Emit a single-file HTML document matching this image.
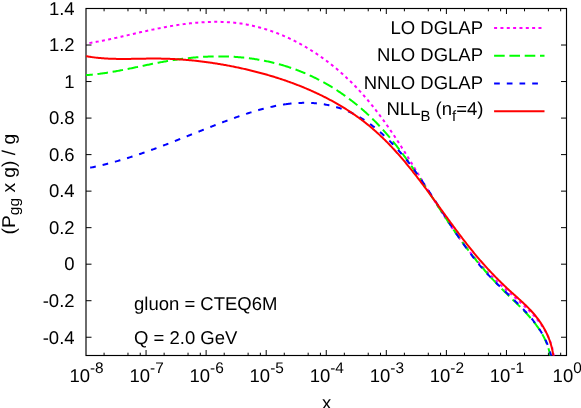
<!DOCTYPE html>
<html>
<head>
<meta charset="utf-8">
<title>plot</title>
<style>
html,body{margin:0;padding:0;background:#fff;}
body{width:581px;height:408px;overflow:hidden;}
svg{display:block;will-change:transform;}
text{text-rendering:geometricPrecision;font-family:"Liberation Sans",sans-serif;font-size:18.5px;fill:#000;}
</style>
</head>
<body>
<svg width="581" height="408" viewBox="0 0 581 408">
<rect x="0" y="0" width="581" height="408" fill="#fff"/>
<defs><clipPath id="clip"><rect x="86.0" y="8.5" width="480.5" height="347.0"/></clipPath></defs>
<!-- frame -->
<rect x="86.0" y="8.5" width="480.50" height="347.00" fill="none" stroke="#000" stroke-width="1.15"/>
<path d="M104.08 355.5 v-2.8 M104.08 8.5 v2.8 M127.98 355.5 v-2.8 M127.98 8.5 v2.8 M140.24 355.5 v-2.8 M140.24 8.5 v2.8 M146.06 355.5 v-5.5 M146.06 8.5 v5.5 M164.14 355.5 v-2.8 M164.14 8.5 v2.8 M188.04 355.5 v-2.8 M188.04 8.5 v2.8 M200.30 355.5 v-2.8 M200.30 8.5 v2.8 M206.12 355.5 v-5.5 M206.12 8.5 v5.5 M224.21 355.5 v-2.8 M224.21 8.5 v2.8 M248.11 355.5 v-2.8 M248.11 8.5 v2.8 M260.37 355.5 v-2.8 M260.37 8.5 v2.8 M266.19 355.5 v-5.5 M266.19 8.5 v5.5 M284.27 355.5 v-2.8 M284.27 8.5 v2.8 M308.17 355.5 v-2.8 M308.17 8.5 v2.8 M320.43 355.5 v-2.8 M320.43 8.5 v2.8 M326.25 355.5 v-5.5 M326.25 8.5 v5.5 M344.33 355.5 v-2.8 M344.33 8.5 v2.8 M368.23 355.5 v-2.8 M368.23 8.5 v2.8 M380.49 355.5 v-2.8 M380.49 8.5 v2.8 M386.31 355.5 v-5.5 M386.31 8.5 v5.5 M404.39 355.5 v-2.8 M404.39 8.5 v2.8 M428.29 355.5 v-2.8 M428.29 8.5 v2.8 M440.55 355.5 v-2.8 M440.55 8.5 v2.8 M446.38 355.5 v-5.5 M446.38 8.5 v5.5 M464.46 355.5 v-2.8 M464.46 8.5 v2.8 M488.36 355.5 v-2.8 M488.36 8.5 v2.8 M500.62 355.5 v-2.8 M500.62 8.5 v2.8 M506.44 355.5 v-5.5 M506.44 8.5 v5.5 M524.52 355.5 v-2.8 M524.52 8.5 v2.8 M548.42 355.5 v-2.8 M548.42 8.5 v2.8 M560.68 355.5 v-2.8 M560.68 8.5 v2.8 M86.0 337.24 h5.5 M566.5 337.24 h-5.5 M86.0 300.71 h5.5 M566.5 300.71 h-5.5 M86.0 264.18 h5.5 M566.5 264.18 h-5.5 M86.0 227.66 h5.5 M566.5 227.66 h-5.5 M86.0 191.13 h5.5 M566.5 191.13 h-5.5 M86.0 154.61 h5.5 M566.5 154.61 h-5.5 M86.0 118.08 h5.5 M566.5 118.08 h-5.5 M86.0 81.55 h5.5 M566.5 81.55 h-5.5 M86.0 45.03 h5.5 M566.5 45.03 h-5.5 M86.0 8.50 h5.5 M566.5 8.50 h-5.5" fill="none" stroke="#000" stroke-width="1"/>
<!-- curves -->
<g clip-path="url(#clip)" fill="none" stroke-width="2">
<path d="M85.98 43.51 L87.04 43.36 L88.09 43.20 L89.14 43.03 L90.19 42.87 L91.23 42.70 L92.28 42.53 L93.32 42.35 L94.36 42.17 L95.40 41.99 L96.43 41.81 L97.47 41.62 L98.50 41.43 L99.53 41.24 L100.56 41.05 L101.59 40.85 L102.62 40.65 L103.64 40.45 L104.67 40.24 L105.69 40.04 L106.71 39.83 L107.74 39.62 L108.76 39.41 L109.77 39.19 L110.79 38.98 L111.81 38.76 L112.83 38.54 L113.84 38.32 L114.86 38.10 L115.87 37.88 L116.89 37.65 L117.90 37.43 L118.91 37.20 L119.92 36.97 L120.94 36.74 L121.95 36.51 L122.96 36.28 L123.97 36.05 L124.98 35.82 L125.99 35.59 L127.01 35.36 L128.02 35.12 L129.03 34.89 L130.04 34.66 L131.05 34.42 L132.07 34.19 L133.08 33.96 L134.09 33.72 L135.11 33.49 L136.12 33.26 L137.14 33.02 L138.15 32.79 L139.17 32.56 L140.19 32.33 L141.20 32.10 L142.22 31.87 L143.24 31.64 L144.26 31.41 L145.29 31.19 L146.31 30.96 L147.33 30.74 L148.36 30.51 L149.39 30.29 L150.41 30.07 L151.44 29.85 L152.47 29.64 L153.51 29.42 L154.54 29.21 L155.57 28.99 L156.61 28.78 L157.64 28.57 L158.68 28.37 L159.71 28.16 L160.75 27.96 L161.79 27.76 L162.83 27.56 L163.87 27.36 L164.91 27.17 L165.96 26.97 L167.00 26.78 L168.04 26.60 L169.09 26.41 L170.13 26.23 L171.18 26.05 L172.22 25.87 L173.27 25.70 L174.32 25.53 L175.37 25.36 L176.41 25.20 L177.46 25.03 L178.51 24.88 L179.56 24.72 L180.61 24.57 L181.66 24.42 L182.71 24.27 L183.76 24.13 L184.82 23.99 L185.87 23.86 L186.92 23.73 L187.97 23.60 L189.02 23.48 L190.07 23.36 L191.13 23.24 L192.18 23.13 L193.23 23.02 L194.29 22.92 L195.34 22.82 L196.39 22.72 L197.44 22.63 L198.50 22.55 L199.55 22.46 L200.60 22.39 L201.65 22.31 L202.70 22.25 L203.76 22.18 L204.81 22.12 L205.86 22.07 L206.91 22.02 L207.96 21.98 L209.01 21.94 L210.06 21.91 L211.11 21.88 L212.16 21.85 L213.21 21.84 L214.26 21.82 L215.31 21.82 L216.35 21.81 L217.40 21.82 L218.45 21.83 L219.49 21.84 L220.54 21.87 L221.58 21.89 L222.63 21.93 L223.67 21.96 L224.71 22.01 L225.76 22.06 L226.80 22.12 L227.84 22.18 L228.88 22.25 L229.91 22.33 L230.95 22.41 L231.99 22.50 L233.02 22.60 L234.06 22.70 L235.09 22.81 L236.13 22.92 L237.16 23.05 L238.19 23.18 L239.22 23.31 L240.25 23.46 L241.27 23.61 L242.30 23.76 L243.33 23.93 L244.35 24.10 L245.37 24.27 L246.39 24.46 L247.42 24.65 L248.43 24.85 L249.45 25.05 L250.47 25.26 L251.48 25.48 L252.50 25.70 L253.51 25.93 L254.52 26.16 L255.53 26.41 L256.54 26.66 L257.55 26.91 L258.55 27.17 L259.56 27.44 L260.56 27.71 L261.56 27.99 L262.56 28.28 L263.56 28.57 L264.55 28.87 L265.55 29.17 L266.54 29.48 L267.53 29.80 L268.52 30.12 L269.51 30.45 L270.50 30.78 L271.48 31.12 L272.46 31.47 L273.45 31.82 L274.42 32.18 L275.40 32.54 L276.38 32.91 L277.35 33.28 L278.32 33.66 L279.29 34.05 L280.26 34.44 L281.23 34.83 L282.19 35.24 L283.16 35.64 L284.12 36.06 L285.08 36.47 L286.03 36.90 L286.99 37.33 L287.94 37.76 L288.89 38.20 L289.84 38.65 L290.79 39.10 L291.73 39.55 L292.67 40.01 L293.61 40.48 L294.55 40.95 L295.48 41.42 L296.42 41.90 L297.35 42.39 L298.28 42.88 L299.20 43.37 L300.13 43.87 L301.05 44.38 L301.97 44.89 L302.89 45.40 L303.80 45.92 L304.71 46.44 L305.62 46.97 L306.53 47.51 L307.44 48.04 L308.34 48.59 L309.24 49.13 L310.14 49.69 L311.03 50.24 L311.92 50.80 L312.81 51.37 L313.70 51.94 L314.58 52.51 L315.47 53.09 L316.35 53.67 L317.22 54.26 L318.10 54.85 L318.97 55.44 L319.84 56.04 L320.70 56.64 L321.56 57.25 L322.42 57.86 L323.28 58.48 L324.14 59.10 L324.99 59.72 L325.84 60.35 L326.68 60.98 L327.52 61.61 L328.36 62.25 L329.20 62.90 L330.03 63.54 L330.87 64.19 L331.69 64.85 L332.52 65.50 L333.34 66.17 L334.16 66.83 L334.97 67.50 L335.79 68.17 L336.60 68.85 L337.40 69.53 L338.21 70.21 L339.01 70.89 L339.80 71.58 L340.60 72.28 L341.39 72.97 L342.17 73.67 L342.96 74.37 L343.74 75.08 L344.51 75.79 L345.29 76.50 L346.06 77.21 L346.82 77.93 L347.59 78.65 L348.35 79.38 L349.10 80.11 L349.86 80.84 L350.61 81.57 L351.35 82.31 L352.09 83.04 L352.83 83.79 L353.57 84.53 L354.30 85.28 L355.03 86.03 L355.76 86.78 L356.48 87.54 L357.20 88.29 L357.91 89.06 L358.62 89.82 L359.33 90.59 L360.04 91.35 L360.74 92.13 L361.44 92.90 L362.14 93.68 L362.83 94.46 L363.53 95.24 L364.21 96.02 L364.90 96.81 L365.58 97.60 L366.26 98.39 L366.94 99.18 L367.61 99.98 L368.28 100.77 L368.95 101.57 L369.61 102.38 L370.28 103.18 L370.94 103.99 L371.59 104.80 L372.25 105.61 L372.90 106.42 L373.55 107.24 L374.20 108.06 L374.84 108.87 L375.49 109.70 L376.12 110.52 L376.76 111.35 L377.40 112.17 L378.03 113.00 L378.66 113.83 L379.29 114.67 L379.91 115.50 L380.54 116.34 L381.16 117.18 L381.78 118.02 L382.40 118.86 L383.01 119.70 L383.63 120.55 L384.24 121.39 L384.85 122.24 L385.45 123.09 L386.06 123.95 L386.66 124.80 L387.26 125.65 L387.86 126.51 L388.46 127.37 L389.06 128.23 L389.65 129.09 L390.24 129.95 L390.84 130.81 L391.42 131.68 L392.01 132.55 L392.60 133.41 L393.18 134.28 L393.77 135.15 L394.35 136.02 L394.93 136.90 L395.51 137.77 L396.08 138.65 L396.66 139.52 L397.23 140.40 L397.81 141.28 L398.38 142.16 L398.95 143.04 L399.52 143.92 L400.09 144.80 L400.65 145.68 L401.22 146.57 L401.78 147.45 L402.35 148.34 L402.91 149.23 L403.47 150.11 L404.03 151.00 L404.59 151.89 L405.15 152.78 L405.71 153.67 L406.27 154.56 L406.82 155.46 L407.38 156.35 L407.93 157.24 L408.49 158.14 L409.04 159.03 L409.59 159.93 L410.14 160.82 L410.70 161.72 L411.25 162.61 L411.80 163.51 L412.35 164.41 L412.90 165.31 L413.44 166.20 L413.99 167.10 L414.54 168.00 L415.09 168.90 L415.63 169.80 L416.18 170.70 L416.73 171.60 L417.27 172.50 L417.82 173.40 L418.37 174.30 L418.91 175.20 L419.46 176.10 L420.00 177.00 L420.55 177.90 L421.09 178.80 L421.64 179.71 L422.18 180.61 L422.73 181.51 L423.27 182.41 L423.82 183.31 L424.37 184.21 L424.91 185.11 L425.46 186.01 L426.00 186.91 L426.55 187.81 L427.10 188.71 L427.64 189.61 L428.19 190.51 L428.74 191.40 L429.29 192.30 L429.84 193.20 L430.39 194.10 L430.94 194.99 L431.49 195.89 L432.04 196.79 L432.59 197.68 L433.14 198.58 L433.69 199.47 L434.25 200.36 L434.80 201.26 L435.36 202.15 L435.91 203.04 L436.47 203.93 L437.03 204.82 L437.58 205.71 L438.14 206.60 L438.70 207.49 L439.26 208.38 L439.83 209.26 L440.39 210.15 L440.95 211.03 L441.52 211.92 L442.09 212.80 L442.65 213.68 L443.22 214.56 L443.79 215.44 L444.36 216.32 L444.94 217.20 L445.51 218.08 L446.08 218.95 L446.66 219.83 L447.24 220.70 L447.82 221.57 L448.40 222.44 L448.98 223.31 L449.57 224.18 L450.15 225.05 L450.74 225.91 L451.33 226.78 L451.92 227.64 L452.51 228.50 L453.10 229.36 L453.70 230.22 L454.29 231.08 L454.89 231.93 L455.49 232.79 L456.09 233.64 L456.70 234.49 L457.31 235.34 L457.91 236.19 L458.52 237.03 L459.14 237.88 L459.75 238.72 L460.37 239.56 L460.98 240.40 L461.60 241.24 L462.23 242.08 L462.85 242.91 L463.48 243.74 L464.11 244.57 L464.74 245.40 L465.37 246.23 L466.01 247.05 L466.65 247.88 L467.29 248.70 L467.93 249.52 L468.57 250.33 L469.22 251.15 L469.87 251.96 L470.52 252.77 L471.18 253.58 L471.84 254.39 L472.50 255.20 L473.16 256.00 L473.82 256.80 L474.49 257.60 L475.16 258.39 L475.83 259.19 L476.51 259.98 L477.19 260.77 L477.87 261.56 L478.55 262.34 L479.24 263.13 L479.93 263.91 L480.62 264.68 L481.32 265.46 L482.02 266.23 L482.72 267.00 L483.42 267.77 L484.13 268.54 L484.84 269.30 L485.55 270.06 L486.27 270.82 L486.99 271.58 L487.71 272.33 L488.44 273.08 L489.17 273.83 L489.90 274.58 L490.64 275.32 L491.37 276.06 L492.12 276.80 L492.86 277.53 L493.61 278.27 L494.36 278.99 L495.12 279.72 L495.88 280.45 L496.64 281.17 L497.40 281.89 L498.17 282.60 L498.94 283.31 L499.72 284.03 L500.50 284.73 L501.28 285.44 L502.06 286.15 L502.84 286.85 L503.63 287.55 L504.41 288.25 L505.20 288.95 L505.99 289.65 L506.78 290.35 L507.58 291.04 L508.37 291.74 L509.16 292.44 L509.96 293.13 L510.75 293.83 L511.54 294.52 L512.34 295.22 L513.13 295.91 L513.92 296.61 L514.71 297.31 L515.51 298.00 L516.29 298.70 L517.08 299.40 L517.87 300.10 L518.65 300.80 L519.44 301.51 L520.22 302.21 L521.00 302.92 L521.77 303.63 L522.55 304.34 L523.32 305.05 L524.08 305.77 L524.85 306.49 L525.60 307.21 L526.36 307.94 L527.11 308.66 L527.86 309.39 L528.60 310.13 L529.33 310.87 L530.07 311.61 L530.79 312.36 L531.51 313.11 L532.22 313.87 L532.93 314.63 L533.63 315.39 L534.32 316.16 L535.01 316.94 L535.69 317.72 L536.36 318.50 L537.02 319.30 L537.67 320.09 L538.32 320.90 L538.95 321.71 L539.58 322.52 L540.20 323.35 L540.81 324.18 L541.41 325.01 L542.00 325.86 L542.57 326.71 L543.14 327.57 L543.70 328.43 L544.24 329.31 L544.78 330.19 L545.30 331.08 L545.81 331.98 L546.31 332.89 L546.80 333.80 L547.27 334.72 L547.73 335.66 L548.18 336.60 L548.61 337.55 L549.03 338.51 L549.43 339.48 L549.83 340.46 L550.20 341.45 L550.57 342.45 L550.91 343.46 L551.24 344.48 L551.56 345.51 L551.86 346.55 L552.15 347.61 L552.41 348.67 L552.67 349.74 L552.90 350.83 L553.12 351.92 L553.32 353.03 L553.50 354.15 L553.67 355.28 L553.81 356.43" stroke="#ff00ff" stroke-dasharray="3 3.34" stroke-dashoffset="-3.5"/>
<path d="M86.01 75.10 L87.02 75.03 L88.03 74.96 L89.03 74.88 L90.04 74.80 L91.04 74.72 L92.05 74.63 L93.05 74.53 L94.06 74.43 L95.06 74.33 L96.06 74.22 L97.06 74.11 L98.06 73.99 L99.06 73.87 L100.06 73.74 L101.05 73.61 L102.05 73.48 L103.05 73.34 L104.04 73.20 L105.04 73.05 L106.03 72.91 L107.03 72.75 L108.02 72.60 L109.01 72.44 L110.01 72.28 L111.00 72.12 L111.99 71.95 L112.98 71.78 L113.97 71.61 L114.96 71.43 L115.95 71.25 L116.94 71.07 L117.93 70.89 L118.92 70.71 L119.91 70.52 L120.89 70.33 L121.88 70.14 L122.87 69.95 L123.86 69.76 L124.84 69.56 L125.83 69.36 L126.82 69.17 L127.80 68.97 L128.79 68.77 L129.77 68.56 L130.76 68.36 L131.75 68.16 L132.73 67.95 L133.72 67.75 L134.70 67.54 L135.69 67.33 L136.67 67.13 L137.66 66.92 L138.64 66.71 L139.63 66.51 L140.61 66.30 L141.60 66.09 L142.59 65.88 L143.57 65.68 L144.56 65.47 L145.54 65.26 L146.53 65.06 L147.52 64.85 L148.50 64.65 L149.49 64.45 L150.48 64.25 L151.46 64.04 L152.45 63.85 L153.44 63.65 L154.43 63.45 L155.42 63.25 L156.41 63.06 L157.39 62.87 L158.38 62.68 L159.37 62.49 L160.36 62.30 L161.36 62.12 L162.35 61.93 L163.34 61.75 L164.33 61.58 L165.32 61.40 L166.32 61.23 L167.31 61.06 L168.31 60.89 L169.30 60.73 L170.30 60.56 L171.29 60.40 L172.29 60.25 L173.28 60.09 L174.28 59.94 L175.28 59.79 L176.28 59.65 L177.27 59.50 L178.27 59.36 L179.27 59.22 L180.27 59.09 L181.27 58.96 L182.27 58.83 L183.27 58.70 L184.27 58.58 L185.27 58.46 L186.28 58.34 L187.28 58.23 L188.28 58.12 L189.28 58.01 L190.28 57.91 L191.29 57.81 L192.29 57.71 L193.29 57.61 L194.30 57.52 L195.30 57.43 L196.30 57.35 L197.31 57.27 L198.31 57.19 L199.32 57.12 L200.32 57.04 L201.33 56.98 L202.33 56.91 L203.33 56.85 L204.34 56.79 L205.35 56.74 L206.35 56.69 L207.36 56.64 L208.36 56.60 L209.37 56.56 L210.37 56.53 L211.38 56.50 L212.38 56.47 L213.39 56.44 L214.39 56.42 L215.40 56.41 L216.41 56.39 L217.41 56.39 L218.42 56.38 L219.42 56.38 L220.43 56.38 L221.43 56.39 L222.44 56.40 L223.44 56.42 L224.45 56.44 L225.45 56.46 L226.46 56.49 L227.46 56.52 L228.47 56.55 L229.47 56.59 L230.48 56.64 L231.48 56.69 L232.49 56.74 L233.49 56.80 L234.49 56.86 L235.50 56.92 L236.50 56.99 L237.50 57.07 L238.51 57.15 L239.51 57.23 L240.51 57.32 L241.51 57.41 L242.51 57.51 L243.51 57.61 L244.51 57.71 L245.51 57.82 L246.51 57.94 L247.51 58.06 L248.51 58.18 L249.51 58.31 L250.51 58.44 L251.50 58.57 L252.50 58.72 L253.49 58.86 L254.49 59.01 L255.48 59.16 L256.48 59.32 L257.47 59.49 L258.46 59.65 L259.45 59.83 L260.44 60.00 L261.43 60.18 L262.42 60.37 L263.41 60.56 L264.40 60.76 L265.38 60.95 L266.37 61.16 L267.35 61.37 L268.33 61.58 L269.32 61.80 L270.30 62.02 L271.28 62.25 L272.26 62.48 L273.23 62.71 L274.21 62.96 L275.18 63.20 L276.16 63.45 L277.13 63.71 L278.10 63.96 L279.07 64.23 L280.04 64.50 L281.01 64.77" stroke="#00ff00" stroke-dasharray="10.6 4.7" stroke-dashoffset="3.8"/>
<path d="M281.01 64.77 L281.98 65.05 L282.94 65.33 L283.91 65.62 L284.87 65.91 L285.83 66.21 L286.79 66.51 L287.75 66.81 L288.71 67.12 L289.66 67.44 L290.62 67.76 L291.57 68.09 L292.52 68.41 L293.47 68.75 L294.42 69.09 L295.36 69.43 L296.31 69.78 L297.25 70.13 L298.19 70.49 L299.13 70.86 L300.07 71.22 L301.00 71.60 L301.93 71.97 L302.87 72.36 L303.80 72.74 L304.72 73.14 L305.65 73.53 L306.58 73.93 L307.50 74.34 L308.42 74.75 L309.34 75.17 L310.25 75.59 L311.17 76.01 L312.08 76.44 L312.99 76.87 L313.90 77.31 L314.81 77.75 L315.71 78.20 L316.62 78.65 L317.52 79.11 L318.41 79.57 L319.31 80.03 L320.20 80.50 L321.10 80.97 L321.99 81.45 L322.87 81.93 L323.76 82.42 L324.64 82.91 L325.52 83.40 L326.40 83.90 L327.28 84.41 L328.15 84.91 L329.02 85.42 L329.89 85.94 L330.76 86.46 L331.62 86.98 L332.49 87.51 L333.35 88.04 L334.20 88.58 L335.06 89.12 L335.91 89.66 L336.76 90.21 L337.61 90.76 L338.45 91.31 L339.30 91.87 L340.14 92.44 L340.97 93.00 L341.81 93.57 L342.64 94.15 L343.47 94.72 L344.30 95.31 L345.12 95.89 L345.94 96.48 L346.76 97.07 L347.58 97.67 L348.39 98.27 L349.20 98.87 L350.01 99.48 L350.82 100.09 L351.62 100.70 L352.42 101.32 L353.22 101.94 L354.01 102.57 L354.80 103.20 L355.59 103.83 L356.38 104.46 L357.16 105.10 L357.94 105.74 L358.72 106.39 L359.49 107.03 L360.26 107.68 L361.03 108.34 L361.80 109.00 L362.56 109.66 L363.32 110.32 L364.07 110.99 L364.83 111.66 L365.57 112.33 L366.32 113.01 L367.07 113.69 L367.81 114.37 L368.54 115.06 L369.28 115.74 L370.01 116.44 L370.74 117.13 L371.46 117.83 L372.18 118.53 L372.90 119.23 L373.61 119.94 L374.33 120.65 L375.03 121.36 L375.74 122.07 L376.44 122.79 L377.14 123.51 L377.83 124.23 L378.53 124.96 L379.22 125.69 L379.90 126.42 L380.59 127.15 L381.27 127.88 L381.94 128.62 L382.62 129.36 L383.29 130.11 L383.96 130.85 L384.63 131.60 L385.29 132.35 L385.95 133.10 L386.61 133.86 L387.27 134.61 L387.92 135.37 L388.57 136.13 L389.22 136.90 L389.86 137.66 L390.51 138.43 L391.15 139.20 L391.78 139.98 L392.42 140.75 L393.05 141.53 L393.68 142.31 L394.31 143.09 L394.94 143.87 L395.56 144.65 L396.19 145.44 L396.81 146.23 L397.42 147.02 L398.04 147.81 L398.65 148.60 L399.26 149.40 L399.87 150.19 L400.48 150.99 L401.09 151.79 L401.69 152.60 L402.29 153.40 L402.89 154.20 L403.49 155.01 L404.09 155.82 L404.68 156.63 L405.28 157.44 L405.87 158.25 L406.46 159.07 L407.04 159.88 L407.63 160.70 L408.22 161.52 L408.80 162.34 L409.38 163.16 L409.96 163.98 L410.54 164.80 L411.12 165.63 L411.70 166.45 L412.27 167.28 L412.85 168.11 L413.42 168.94 L413.99 169.77 L414.56 170.60 L415.13 171.43 L415.70 172.26 L416.26 173.10 L416.83 173.93 L417.39 174.77 L417.96 175.60 L418.52 176.44 L419.08 177.28 L419.64 178.12 L420.20 178.96 L420.76 179.80 L421.32 180.64 L421.88 181.48 L422.44 182.32 L422.99 183.16 L423.55 184.01 L424.11 184.85 L424.66 185.70 L425.21 186.54 L425.77 187.39 L426.32 188.23 L426.87 189.08 L427.42 189.92 L427.98 190.77 L428.53 191.62 L429.08 192.47 L429.63 193.31 L430.18 194.16 L430.73 195.01 L431.28 195.86 L431.83 196.71 L432.38 197.55 L432.93 198.40 L433.48 199.25 L434.03 200.10 L434.58 200.95 L435.13 201.80 L435.68 202.65 L436.22 203.50 L436.77 204.34 L437.32 205.19 L437.87 206.04 L438.42 206.89 L438.97 207.74 L439.53 208.58 L440.08 209.43 L440.63 210.28 L441.18 211.12 L441.73 211.97 L442.28 212.82 L442.84 213.66 L443.39 214.51 L443.94 215.35 L444.50 216.19 L445.05 217.04 L445.61 217.88 L446.17 218.72 L446.72 219.56 L447.28 220.40 L447.84 221.24 L448.40 222.08 L448.96 222.92 L449.52 223.76 L450.08 224.60 L450.65 225.43 L451.21 226.27 L451.78 227.10 L452.34 227.94 L452.91 228.77 L453.48 229.60 L454.05 230.43 L454.62 231.26 L455.19 232.09 L455.76 232.92 L456.34 233.75 L456.91 234.57 L457.49 235.40 L458.07 236.22 L458.65 237.04 L459.23 237.86 L459.81 238.68 L460.39 239.50 L460.98 240.32 L461.56 241.13 L462.15 241.95 L462.74 242.76 L463.34 243.57 L463.93 244.38 L464.52 245.19 L465.12 245.99 L465.72 246.80 L466.32 247.60 L466.92 248.40 L467.53 249.20 L468.13 250.00 L468.74 250.80 L469.35 251.60 L469.96 252.39 L470.57 253.18 L471.19 253.97 L471.80 254.76 L472.42 255.55 L473.04 256.34 L473.67 257.12 L474.29 257.91 L474.92 258.69 L475.54 259.47 L476.17 260.25 L476.81 261.02 L477.44 261.80 L478.07 262.57 L478.71 263.34 L479.35 264.11 L479.99 264.88 L480.64 265.65 L481.28 266.42 L481.93 267.18 L482.58 267.94 L483.23 268.70 L483.88 269.46 L484.54 270.22 L485.20 270.98 L485.85 271.73 L486.52 272.48 L487.18 273.24 L487.84 273.99 L488.51 274.73 L489.18 275.48 L489.85 276.23 L490.53 276.97 L491.20 277.71 L491.88 278.45 L492.56 279.19 L493.24 279.93 L493.93 280.66 L494.61 281.39 L495.30 282.13 L495.99 282.86 L496.68 283.58 L497.38 284.31 L498.07 285.04 L498.77 285.76 L499.47 286.48 L500.18 287.20 L500.88 287.92 L501.59 288.64 L502.30 289.35 L503.01 290.07 L503.73 290.78 L504.44 291.49 L505.16 292.20 L505.88 292.91 L506.60 293.62 L507.32 294.32 L508.05 295.03 L508.77 295.73 L509.49 296.44 L510.22 297.14 L510.94 297.85 L511.67 298.55 L512.39 299.26 L513.11 299.96 L513.84 300.67 L514.56 301.37 L515.28 302.08 L516.00 302.79 L516.72 303.49 L517.44 304.20 L518.16 304.91 L518.88 305.62 L519.59 306.33 L520.30 307.05 L521.01 307.76 L521.72 308.48 L522.42 309.20 L523.12 309.92 L523.82 310.65 L524.51 311.37 L525.20 312.10 L525.89 312.83 L526.58 313.56 L527.26 314.30 L527.93 315.04 L528.60 315.78 L529.27 316.53 L529.93 317.28 L530.58 318.03 L531.23 318.79 L531.88 319.55 L532.51 320.32 L533.15 321.09 L533.77 321.87 L534.39 322.65 L535.00 323.43 L535.60 324.22 L536.20 325.01 L536.79 325.81 L537.37 326.62 L537.94 327.43 L538.51 328.25 L539.06 329.07 L539.61 329.90 L540.15 330.73 L540.68 331.58 L541.20 332.42 L541.71 333.28 L542.21 334.14 L542.69 335.01 L543.17 335.88 L543.64 336.77 L544.10 337.66 L544.54 338.56 L544.98 339.46 L545.40 340.38 L545.81 341.30 L546.21 342.23 L546.60 343.17 L546.97 344.12 L547.33 345.07 L547.68 346.04 L548.01 347.01 L548.33 348.00 L548.64 348.99 L548.93 349.99 L549.21 351.00 L549.48 352.03 L549.73 353.06 L549.96 354.10 L550.18 355.15 L550.38 356.21" stroke="#00ff00" stroke-dasharray="10.6 4.7" stroke-dashoffset="0"/>
<path d="M85.88 168.53 L86.89 168.34 L87.89 168.15 L88.89 167.96 L89.89 167.76 L90.88 167.56 L91.88 167.36 L92.87 167.15 L93.86 166.94 L94.85 166.73 L95.84 166.52 L96.82 166.30 L97.81 166.08 L98.79 165.86 L99.77 165.63 L100.75 165.40 L101.73 165.17 L102.71 164.94 L103.69 164.70 L104.66 164.46 L105.64 164.22 L106.61 163.97 L107.58 163.73 L108.55 163.48 L109.52 163.23 L110.48 162.97 L111.45 162.72 L112.41 162.46 L113.38 162.19 L114.34 161.93 L115.30 161.66 L116.26 161.40 L117.22 161.13 L118.17 160.85 L119.13 160.58 L120.09 160.30 L121.04 160.02 L121.99 159.74 L122.94 159.45 L123.89 159.17 L124.84 158.88 L125.79 158.59 L126.74 158.30 L127.69 158.00 L128.63 157.71 L129.58 157.41 L130.52 157.11 L131.46 156.81 L132.41 156.50 L133.35 156.20 L134.29 155.89 L135.23 155.58 L136.17 155.27 L137.10 154.96 L138.04 154.64 L138.98 154.33 L139.91 154.01 L140.85 153.69 L141.78 153.37 L142.72 153.05 L143.65 152.72 L144.58 152.40 L145.51 152.07 L146.44 151.74 L147.37 151.41 L148.30 151.08 L149.23 150.75 L150.16 150.42 L151.09 150.08 L152.02 149.75 L152.94 149.41 L153.87 149.07 L154.80 148.73 L155.72 148.39 L156.65 148.04 L157.57 147.70 L158.50 147.36 L159.42 147.01 L160.34 146.66 L161.27 146.32 L162.19 145.97 L163.11 145.62 L164.04 145.27 L164.96 144.91 L165.88 144.56 L166.80 144.21 L167.72 143.85 L168.64 143.50 L169.57 143.14 L170.49 142.79 L171.41 142.43 L172.33 142.07 L173.25 141.71 L174.17 141.35 L175.09 140.99 L176.01 140.63 L176.93 140.27 L177.85 139.91 L178.77 139.54 L179.69 139.18 L180.61 138.82 L181.53 138.45 L182.45 138.09 L183.37 137.72 L184.29 137.36 L185.21 136.99 L186.13 136.63 L187.05 136.26 L187.98 135.90 L188.90 135.53 L189.82 135.16 L190.74 134.80 L191.66 134.43 L192.58 134.06 L193.51 133.69 L194.43 133.33 L195.35 132.96 L196.28 132.59 L197.20 132.22 L198.12 131.86 L199.05 131.49 L199.97 131.12 L200.90 130.76 L201.82 130.39 L202.75 130.02 L203.68 129.66 L204.60 129.29 L205.53 128.92 L206.46 128.56 L207.39 128.19 L208.32 127.83 L209.25 127.46 L210.18 127.10 L211.11 126.73 L212.04 126.37 L212.97 126.00 L213.91 125.64 L214.84 125.28 L215.78 124.92 L216.71 124.56 L217.65 124.20 L218.58 123.84 L219.52 123.48 L220.46 123.12 L221.40 122.76 L222.34 122.40 L223.28 122.05 L224.22 121.69 L225.16 121.34 L226.10 120.98 L227.05 120.63 L227.99 120.28 L228.94 119.93 L229.89 119.58 L230.83 119.23 L231.78 118.88 L232.73 118.54 L233.68 118.19 L234.63 117.85 L235.58 117.51 L236.53 117.17 L237.49 116.83 L238.44 116.50 L239.39 116.17 L240.35 115.83 L241.30 115.51 L242.26 115.18 L243.22 114.86 L244.18 114.53 L245.13 114.22 L246.09 113.90 L247.05 113.59 L248.01 113.28 L248.97 112.97 L249.94 112.66 L250.90 112.36 L251.86 112.06 L252.82 111.77 L253.79 111.47 L254.75 111.19 L255.72 110.90 L256.68 110.62 L257.65 110.34 L258.62 110.07 L259.58 109.79 L260.55 109.53 L261.52 109.26 L262.49 109.01 L263.46 108.75 L264.43 108.50 L265.40 108.25 L266.37 108.01 L267.34 107.77 L268.31 107.54 L269.28 107.31 L270.26 107.09 L271.23 106.87 L272.20 106.65 L273.17 106.44 L274.15 106.24 L275.12 106.04 L276.10 105.85 L277.07 105.66 L278.05 105.47 L279.02 105.30 L280.00 105.12 L280.98 104.96 L281.95 104.80 L282.93 104.64 L283.91 104.49 L284.89 104.35 L285.86 104.21" stroke="#0000ff" stroke-dasharray="5.7 7" stroke-dashoffset="-4.4"/>
<path d="M285.86 104.21 L286.84 104.08 L287.82 103.95 L288.80 103.83 L289.78 103.72 L290.76 103.61 L291.74 103.51 L292.72 103.42 L293.70 103.33 L294.68 103.25 L295.66 103.18 L296.64 103.11 L297.62 103.05 L298.60 103.00 L299.58 102.95 L300.56 102.91 L301.54 102.88 L302.52 102.86 L303.50 102.84 L304.49 102.84 L305.47 102.83 L306.45 102.84 L307.43 102.86 L308.41 102.88 L309.39 102.91 L310.38 102.95 L311.36 102.99 L312.34 103.05 L313.32 103.11 L314.30 103.18 L315.29 103.26 L316.27 103.35 L317.25 103.45 L318.23 103.55 L319.21 103.67 L320.19 103.79 L321.17 103.92 L322.14 104.06 L323.12 104.21 L324.10 104.36 L325.07 104.53 L326.04 104.70 L327.02 104.89 L327.99 105.08 L328.95 105.28 L329.92 105.49 L330.89 105.71 L331.85 105.93 L332.81 106.17 L333.77 106.41 L334.73 106.67 L335.68 106.93 L336.63 107.20 L337.58 107.48 L338.53 107.77 L339.48 108.07 L340.42 108.38 L341.36 108.69 L342.29 109.02 L343.22 109.36 L344.15 109.70 L345.08 110.06 L346.00 110.42 L346.92 110.79 L347.84 111.18 L348.75 111.57 L349.66 111.97 L350.56 112.38 L351.46 112.80 L352.36 113.23 L353.25 113.67 L354.14 114.12 L355.02 114.57 L355.90 115.04 L356.78 115.51 L357.65 115.99 L358.52 116.48 L359.38 116.98 L360.24 117.49 L361.10 118.00 L361.95 118.52 L362.80 119.05 L363.64 119.59 L364.48 120.13 L365.32 120.69 L366.15 121.24 L366.98 121.81 L367.80 122.38 L368.62 122.96 L369.44 123.54 L370.25 124.13 L371.05 124.72 L371.86 125.33 L372.65 125.93 L373.45 126.55 L374.24 127.16 L375.02 127.79 L375.81 128.42 L376.58 129.05 L377.36 129.69 L378.13 130.33 L378.89 130.98 L379.65 131.63 L380.41 132.28 L381.16 132.94 L381.91 133.61 L382.65 134.27 L383.39 134.95 L384.13 135.62 L384.86 136.30 L385.58 136.98 L386.31 137.66 L387.03 138.35 L387.74 139.04 L388.45 139.74 L389.16 140.44 L389.86 141.14 L390.56 141.84 L391.25 142.55 L391.95 143.26 L392.63 143.97 L393.32 144.69 L394.00 145.41 L394.68 146.13 L395.35 146.86 L396.02 147.59 L396.69 148.32 L397.35 149.06 L398.01 149.79 L398.67 150.53 L399.32 151.28 L399.97 152.02 L400.62 152.77 L401.26 153.52 L401.90 154.28 L402.54 155.03 L403.18 155.79 L403.81 156.55 L404.44 157.31 L405.06 158.08 L405.69 158.85 L406.31 159.62 L406.93 160.39 L407.54 161.17 L408.16 161.95 L408.77 162.72 L409.37 163.51 L409.98 164.29 L410.58 165.08 L411.18 165.86 L411.78 166.65 L412.38 167.45 L412.97 168.24 L413.56 169.04 L414.15 169.83 L414.74 170.63 L415.32 171.43 L415.90 172.24 L416.48 173.04 L417.06 173.85 L417.64 174.65 L418.22 175.46 L418.79 176.28 L419.36 177.09 L419.93 177.90 L420.50 178.72 L421.06 179.53 L421.63 180.35 L422.19 181.17 L422.75 181.99 L423.31 182.81 L423.87 183.64 L424.43 184.46 L424.99 185.29 L425.54 186.11 L426.10 186.94 L426.65 187.77 L427.20 188.60 L427.75 189.43 L428.30 190.26 L428.85 191.10 L429.39 191.93 L429.94 192.76 L430.48 193.60 L431.03 194.43 L431.57 195.27 L432.12 196.11 L432.66 196.95 L433.20 197.78 L433.74 198.62 L434.28 199.46 L434.82 200.30 L435.36 201.14 L435.90 201.98 L436.44 202.83 L436.97 203.67 L437.51 204.51 L438.05 205.35 L438.59 206.19 L439.12 207.04 L439.66 207.88 L440.20 208.72 L440.73 209.56 L441.27 210.41 L441.81 211.25 L442.34 212.09 L442.88 212.94 L443.42 213.78 L443.96 214.62 L444.49 215.46 L445.03 216.31 L445.57 217.15 L446.11 217.99 L446.65 218.83 L447.19 219.67 L447.73 220.51 L448.27 221.35 L448.81 222.19 L449.35 223.03 L449.90 223.87 L450.44 224.71 L450.98 225.54 L451.53 226.38 L452.07 227.22 L452.62 228.05 L453.17 228.89 L453.72 229.72 L454.27 230.55 L454.82 231.39 L455.37 232.22 L455.92 233.05 L456.48 233.88 L457.04 234.70 L457.59 235.53 L458.15 236.36 L458.71 237.18 L459.27 238.00 L459.84 238.83 L460.40 239.65 L460.97 240.47 L461.53 241.29 L462.10 242.10 L462.68 242.92 L463.25 243.73 L463.82 244.55 L464.40 245.36 L464.98 246.17 L465.56 246.97 L466.14 247.78 L466.73 248.59 L467.31 249.39 L467.90 250.19 L468.49 250.99 L469.09 251.79 L469.68 252.58 L470.28 253.38 L470.88 254.17 L471.48 254.96 L472.09 255.75 L472.69 256.54 L473.30 257.32 L473.92 258.10 L474.53 258.88 L475.15 259.66 L475.77 260.44 L476.39 261.21 L477.02 261.98 L477.65 262.75 L478.28 263.52 L478.91 264.28 L479.55 265.04 L480.19 265.80 L480.84 266.56 L481.48 267.31 L482.13 268.06 L482.79 268.81 L483.44 269.56 L484.10 270.30 L484.76 271.04 L485.43 271.78 L486.10 272.51 L486.77 273.25 L487.45 273.98 L488.13 274.70 L488.81 275.43 L489.50 276.15 L490.19 276.87 L490.89 277.58 L491.58 278.29 L492.28 279.01 L492.98 279.71 L493.69 280.42 L494.40 281.12 L495.10 281.83 L495.82 282.53 L496.53 283.23 L497.25 283.92 L497.96 284.62 L498.68 285.31 L499.40 286.01 L500.12 286.70 L500.84 287.39 L501.57 288.08 L502.29 288.77 L503.02 289.46 L503.74 290.14 L504.47 290.83 L505.19 291.52 L505.92 292.20 L506.64 292.89 L507.37 293.58 L508.10 294.26 L508.82 294.95 L509.54 295.64 L510.27 296.33 L510.99 297.01 L511.71 297.70 L512.43 298.39 L513.15 299.08 L513.87 299.77 L514.58 300.47 L515.30 301.16 L516.01 301.85 L516.72 302.55 L517.42 303.25 L518.13 303.95 L518.83 304.65 L519.53 305.35 L520.23 306.06 L520.92 306.77 L521.61 307.48 L522.30 308.19 L522.98 308.90 L523.66 309.62 L524.34 310.34 L525.01 311.06 L525.68 311.79 L526.35 312.51 L527.01 313.24 L527.66 313.98 L528.31 314.72 L528.96 315.46 L529.60 316.20 L530.24 316.95 L530.87 317.70 L531.50 318.46 L532.12 319.22 L532.73 319.98 L533.34 320.75 L533.94 321.53 L534.54 322.30 L535.13 323.09 L535.72 323.87 L536.29 324.66 L536.87 325.46 L537.43 326.26 L537.99 327.07 L538.54 327.88 L539.08 328.70 L539.62 329.52 L540.15 330.35 L540.67 331.18 L541.18 332.02 L541.69 332.87 L542.18 333.72 L542.67 334.57 L543.15 335.44 L543.62 336.31 L544.09 337.18 L544.54 338.07 L544.99 338.96 L545.42 339.85 L545.85 340.76 L546.27 341.67 L546.68 342.59 L547.07 343.51 L547.46 344.44 L547.84 345.38 L548.21 346.33 L548.57 347.29 L548.91 348.25 L549.25 349.22 L549.58 350.20 L549.89 351.19 L550.20 352.18 L550.49 353.19 L550.77 354.20 L551.04 355.22 L551.30 356.25" stroke="#0000ff" stroke-dasharray="5.7 7" stroke-dashoffset="0"/>
<path d="M86.10 56.15 L87.07 56.33 L88.03 56.50 L89.00 56.66 L89.97 56.82 L90.94 56.97 L91.91 57.12 L92.89 57.25 L93.86 57.38 L94.84 57.51 L95.81 57.62 L96.79 57.74 L97.77 57.84 L98.76 57.94 L99.74 58.03 L100.72 58.12 L101.71 58.21 L102.69 58.28 L103.68 58.36 L104.67 58.42 L105.66 58.49 L106.65 58.54 L107.64 58.60 L108.64 58.65 L109.63 58.69 L110.62 58.73 L111.62 58.77 L112.61 58.80 L113.61 58.83 L114.61 58.85 L115.61 58.87 L116.60 58.89 L117.60 58.91 L118.60 58.92 L119.60 58.93 L120.60 58.94 L121.61 58.94 L122.61 58.94 L123.61 58.94 L124.61 58.94 L125.62 58.93 L126.62 58.93 L127.62 58.92 L128.63 58.91 L129.63 58.90 L130.64 58.88 L131.64 58.87 L132.64 58.86 L133.65 58.84 L134.65 58.82 L135.66 58.81 L136.66 58.79 L137.67 58.77 L138.67 58.75 L139.68 58.73 L140.68 58.72 L141.69 58.70 L142.69 58.68 L143.69 58.67 L144.70 58.65 L145.70 58.64 L146.70 58.62 L147.71 58.61 L148.71 58.60 L149.71 58.59 L150.71 58.58 L151.71 58.57 L152.71 58.57 L153.71 58.56 L154.71 58.56 L155.71 58.56 L156.71 58.57 L157.70 58.58 L158.70 58.58 L159.69 58.60 L160.69 58.61 L161.68 58.63 L162.68 58.65 L163.67 58.67 L164.66 58.69 L165.65 58.72 L166.64 58.75 L167.63 58.79 L168.62 58.82 L169.61 58.86 L170.60 58.90 L171.59 58.94 L172.58 58.99 L173.56 59.04 L174.55 59.09 L175.53 59.14 L176.52 59.20 L177.50 59.25 L178.49 59.31 L179.47 59.38 L180.46 59.44 L181.44 59.51 L182.42 59.58 L183.40 59.66 L184.38 59.73 L185.36 59.81 L186.35 59.89 L187.33 59.98 L188.31 60.06 L189.28 60.15 L190.26 60.24 L191.24 60.33 L192.22 60.43 L193.20 60.53 L194.18 60.63 L195.16 60.73 L196.13 60.84 L197.11 60.95 L198.09 61.06 L199.06 61.17 L200.04 61.28 L201.02 61.40 L201.99 61.52 L202.97 61.64 L203.94 61.77 L204.92 61.89 L205.89 62.02 L206.87 62.16 L207.84 62.29 L208.82 62.43 L209.79 62.57 L210.77 62.71 L211.74 62.85 L212.72 63.00 L213.69 63.14 L214.67 63.29 L215.64 63.45 L216.61 63.60 L217.59 63.76 L218.56 63.92 L219.54 64.08 L220.51 64.24 L221.49 64.41 L222.46 64.58 L223.43 64.75 L224.41 64.92 L225.38 65.10 L226.36 65.28 L227.33 65.46 L228.31 65.64 L229.28 65.82 L230.26 66.01 L231.23 66.20 L232.21 66.39 L233.18 66.58 L234.16 66.78 L235.13 66.98 L236.11 67.18 L237.08 67.38 L238.06 67.58 L239.03 67.79 L240.01 68.00 L240.99 68.21 L241.96 68.43 L242.94 68.64 L243.91 68.86 L244.88 69.08 L245.86 69.30 L246.83 69.53 L247.81 69.76 L248.78 69.99 L249.76 70.22 L250.73 70.46 L251.70 70.69 L252.67 70.93 L253.65 71.18 L254.62 71.42 L255.59 71.67 L256.56 71.92 L257.53 72.17 L258.50 72.42 L259.47 72.68 L260.44 72.94 L261.41 73.20 L262.38 73.47 L263.35 73.73 L264.32 74.00 L265.28 74.27 L266.25 74.55 L267.21 74.82 L268.18 75.10 L269.14 75.39 L270.11 75.67 L271.07 75.96 L272.03 76.25 L272.99 76.54 L273.95 76.83 L274.91 77.13 L275.87 77.43 L276.83 77.73 L277.79 78.04 L278.74 78.35 L279.70 78.66 L280.66 78.97 L281.61 79.28 L282.56 79.60 L283.51 79.92 L284.47 80.25 L285.42 80.57 L286.36 80.90 L287.31 81.23 L288.26 81.57 L289.20 81.91 L290.15 82.25 L291.09 82.59 L292.04 82.93 L292.98 83.28 L293.92 83.63 L294.86 83.99 L295.79 84.34 L296.73 84.70 L297.66 85.06 L298.60 85.43 L299.53 85.79 L300.46 86.16 L301.39 86.54 L302.32 86.91 L303.25 87.29 L304.17 87.67 L305.10 88.06 L306.02 88.45 L306.94 88.84 L307.86 89.23 L308.78 89.62 L309.70 90.02 L310.61 90.42 L311.53 90.83 L312.44 91.24 L313.35 91.65 L314.26 92.06 L315.17 92.48 L316.07 92.90 L316.98 93.32 L317.88 93.74 L318.78 94.17 L319.68 94.60 L320.58 95.04 L321.47 95.47 L322.36 95.91 L323.26 96.36 L324.15 96.80 L325.03 97.25 L325.92 97.70 L326.80 98.16 L327.69 98.62 L328.57 99.08 L329.45 99.54 L330.32 100.01 L331.20 100.48 L332.07 100.95 L332.94 101.43 L333.81 101.91 L334.67 102.39 L335.54 102.88 L336.40 103.37 L337.26 103.86 L338.12 104.35 L338.97 104.85 L339.83 105.35 L340.68 105.86 L341.53 106.37 L342.37 106.88 L343.22 107.39 L344.06 107.91 L344.90 108.43 L345.74 108.96 L346.57 109.48 L347.40 110.01 L348.23 110.55 L349.06 111.08 L349.89 111.62 L350.71 112.17 L351.53 112.71 L352.35 113.26 L353.16 113.82 L353.98 114.37 L354.79 114.93 L355.60 115.50 L356.40 116.06 L357.20 116.63 L358.00 117.21 L358.80 117.78 L359.59 118.36 L360.39 118.95 L361.18 119.53 L361.96 120.12 L362.75 120.72 L363.53 121.31 L364.30 121.91 L365.08 122.52 L365.85 123.13 L366.62 123.74 L367.39 124.35 L368.15 124.97 L368.91 125.59 L369.67 126.21 L370.42 126.84 L371.18 127.47 L371.93 128.11 L372.67 128.74 L373.41 129.39 L374.15 130.03 L374.89 130.68 L375.63 131.33 L376.36 131.99 L377.09 132.64 L377.81 133.30 L378.54 133.97 L379.26 134.63 L379.98 135.31 L380.69 135.98 L381.41 136.65 L382.12 137.33 L382.83 138.02 L383.53 138.70 L384.24 139.39 L384.94 140.08 L385.63 140.77 L386.33 141.47 L387.02 142.17 L387.72 142.87 L388.40 143.57 L389.09 144.28 L389.78 144.99 L390.46 145.70 L391.14 146.42 L391.82 147.14 L392.49 147.86 L393.17 148.58 L393.84 149.30 L394.51 150.03 L395.17 150.76 L395.84 151.49 L396.50 152.23 L397.16 152.96 L397.82 153.70 L398.48 154.44 L399.14 155.18 L399.79 155.93 L400.44 156.68 L401.09 157.42 L401.74 158.18 L402.39 158.93 L403.03 159.68 L403.67 160.44 L404.32 161.20 L404.96 161.96 L405.59 162.72 L406.23 163.49 L406.86 164.25 L407.50 165.02 L408.13 165.79 L408.76 166.56 L409.39 167.34 L410.02 168.11 L410.64 168.89 L411.27 169.67 L411.89 170.45 L412.51 171.23 L413.13 172.01 L413.75 172.79 L414.37 173.58 L414.99 174.36 L415.61 175.15 L416.22 175.94 L416.83 176.73 L417.45 177.52 L418.06 178.31 L418.67 179.11 L419.28 179.90 L419.88 180.70 L420.49 181.50 L421.10 182.29 L421.70 183.09 L422.31 183.89 L422.91 184.69 L423.51 185.50 L424.12 186.30 L424.72 187.10 L425.32 187.91 L425.92 188.71 L426.52 189.52 L427.11 190.33 L427.71 191.13 L428.31 191.94 L428.90 192.75 L429.50 193.56 L430.09 194.37 L430.69 195.18 L431.28 195.99 L431.88 196.80 L432.47 197.61 L433.06 198.42 L433.66 199.24 L434.25 200.05 L434.84 200.86 L435.43 201.67 L436.02 202.49 L436.61 203.30 L437.20 204.12 L437.79 204.93 L438.38 205.74 L438.97 206.56 L439.56 207.37 L440.15 208.18 L440.74 209.00 L441.33 209.81 L441.92 210.63 L442.51 211.44 L443.10 212.25 L443.69 213.07 L444.28 213.88 L444.87 214.69 L445.46 215.51 L446.05 216.32 L446.64 217.13 L447.23 217.94 L447.82 218.75 L448.41 219.56 L449.00 220.37 L449.59 221.18 L450.19 221.99 L450.78 222.80 L451.37 223.61 L451.96 224.41 L452.56 225.22 L453.15 226.03 L453.75 226.83 L454.34 227.64 L454.94 228.44 L455.53 229.24 L456.13 230.04 L456.73 230.84 L457.33 231.64 L457.93 232.44 L458.53 233.24 L459.13 234.04 L459.73 234.83 L460.33 235.63 L460.93 236.42 L461.54 237.21 L462.14 238.01 L462.75 238.80 L463.35 239.58 L463.96 240.37 L464.57 241.16 L465.18 241.94 L465.79 242.72 L466.40 243.51 L467.01 244.29 L467.62 245.07 L468.24 245.84 L468.86 246.62 L469.47 247.39 L470.09 248.17 L470.71 248.94 L471.33 249.71 L471.95 250.47 L472.58 251.24 L473.20 252.00 L473.83 252.77 L474.46 253.53 L475.08 254.28 L475.72 255.04 L476.35 255.80 L476.98 256.55 L477.62 257.30 L478.25 258.05 L478.89 258.80 L479.53 259.54 L480.17 260.28 L480.82 261.02 L481.46 261.76 L482.11 262.50 L482.76 263.24 L483.41 263.97 L484.06 264.70 L484.71 265.43 L485.37 266.16 L486.02 266.89 L486.68 267.61 L487.35 268.34 L488.01 269.06 L488.67 269.78 L489.34 270.50 L490.01 271.21 L490.68 271.93 L491.35 272.64 L492.03 273.35 L492.71 274.06 L493.39 274.77 L494.07 275.48 L494.75 276.18 L495.44 276.89 L496.13 277.59 L496.82 278.29 L497.51 278.99 L498.20 279.69 L498.90 280.38 L499.60 281.08 L500.30 281.77 L501.01 282.46 L501.71 283.15 L502.42 283.84 L503.14 284.53 L503.85 285.21 L504.57 285.90 L505.29 286.58 L506.01 287.26 L506.73 287.94 L507.46 288.62 L508.19 289.30 L508.92 289.97 L509.66 290.65 L510.40 291.32 L511.14 291.99 L511.88 292.66 L512.62 293.33 L513.37 294.00 L514.11 294.67 L514.86 295.34 L515.61 296.01 L516.36 296.69 L517.10 297.36 L517.85 298.03 L518.60 298.70 L519.34 299.38 L520.09 300.05 L520.83 300.73 L521.57 301.41 L522.31 302.09 L523.04 302.78 L523.77 303.46 L524.50 304.15 L525.22 304.84 L525.94 305.54 L526.66 306.24 L527.37 306.94 L528.08 307.65 L528.78 308.36 L529.47 309.08 L530.16 309.79 L530.85 310.52 L531.52 311.25 L532.19 311.98 L532.86 312.72 L533.51 313.47 L534.16 314.22 L534.80 314.98 L535.43 315.74 L536.05 316.51 L536.66 317.28 L537.27 318.06 L537.86 318.85 L538.45 319.64 L539.03 320.44 L539.60 321.25 L540.16 322.06 L540.71 322.87 L541.26 323.69 L541.79 324.52 L542.31 325.36 L542.82 326.20 L543.33 327.04 L543.82 327.89 L544.30 328.75 L544.78 329.62 L545.24 330.48 L545.69 331.36 L546.13 332.24 L546.56 333.13 L546.98 334.02 L547.39 334.92 L547.79 335.83 L548.18 336.74 L548.55 337.66 L548.92 338.58 L549.27 339.51 L549.61 340.44 L549.94 341.39 L550.26 342.33 L550.57 343.29 L550.86 344.25 L551.14 345.21 L551.41 346.18 L551.67 347.16 L551.91 348.14 L552.14 349.13 L552.36 350.13 L552.56 351.13 L552.76 352.14 L552.94 353.15 L553.10 354.17 L553.25 355.19 L553.39 356.23" stroke="#ff0000"/>
</g>
<!-- legend -->
<g fill="none" stroke-width="2">
<path d="M494.1 27.9 H544.5" stroke="#ff00ff" stroke-dasharray="3 3.34"/>
<path d="M494.1 55.7 H544.5" stroke="#00ff00" stroke-dasharray="10.6 4.7"/>
<path d="M494.1 83.5 H544.5" stroke="#0000ff" stroke-dasharray="5.7 7"/>
<path d="M494.1 111.2 H544.5" stroke="#ff0000"/>
</g>
<text x="483" y="33.9" text-anchor="end">LO DGLAP</text>
<text x="483" y="61.3" text-anchor="end">NLO DGLAP</text>
<text x="483" y="89.1" text-anchor="end">NNLO DGLAP</text>
<text x="483.4" y="115.2" text-anchor="end">NLL<tspan dy="5.6" font-size="14.9">B</tspan><tspan dy="-5.6"> (n</tspan><tspan dy="5.6" font-size="14.9">f</tspan><tspan dy="-5.6">=4)</tspan></text>
<!-- annotations -->
<text x="134" y="310">gluon = CTEQ6M</text>
<text x="134" y="344">Q = 2.0 GeV</text>
<!-- tick labels -->
<text x="74.6" y="343.54" text-anchor="end">-0.4</text>
<text x="74.6" y="307.01" text-anchor="end">-0.2</text>
<text x="74.6" y="270.48" text-anchor="end">0</text>
<text x="74.6" y="233.96" text-anchor="end">0.2</text>
<text x="74.6" y="197.43" text-anchor="end">0.4</text>
<text x="74.6" y="160.91" text-anchor="end">0.6</text>
<text x="74.6" y="124.38" text-anchor="end">0.8</text>
<text x="74.6" y="87.85" text-anchor="end">1</text>
<text x="74.6" y="51.33" text-anchor="end">1.2</text>
<text x="74.6" y="14.80" text-anchor="end">1.4</text>
<text x="69.40" y="382.3">10<tspan dy="-9.2" font-size="15.4">-8</tspan></text>
<text x="129.46" y="382.3">10<tspan dy="-9.2" font-size="15.4">-7</tspan></text>
<text x="189.53" y="382.3">10<tspan dy="-9.2" font-size="15.4">-6</tspan></text>
<text x="249.59" y="382.3">10<tspan dy="-9.2" font-size="15.4">-5</tspan></text>
<text x="309.65" y="382.3">10<tspan dy="-9.2" font-size="15.4">-4</tspan></text>
<text x="369.71" y="382.3">10<tspan dy="-9.2" font-size="15.4">-3</tspan></text>
<text x="429.77" y="382.3">10<tspan dy="-9.2" font-size="15.4">-2</tspan></text>
<text x="489.84" y="382.3">10<tspan dy="-9.2" font-size="15.4">-1</tspan></text>
<text x="552.60" y="382.3">10<tspan dy="-9.2" font-size="15.4">0</tspan></text>
<!-- axis labels -->
<text x="322" y="409">x</text>
<text transform="translate(14.8 184.1) rotate(-90)" text-anchor="middle" textLength="100.6" lengthAdjust="spacingAndGlyphs">(P<tspan dy="4.5" font-size="14.9">gg</tspan><tspan dy="-4.5"> x g) / g</tspan></text>
</svg>
</body>
</html>
